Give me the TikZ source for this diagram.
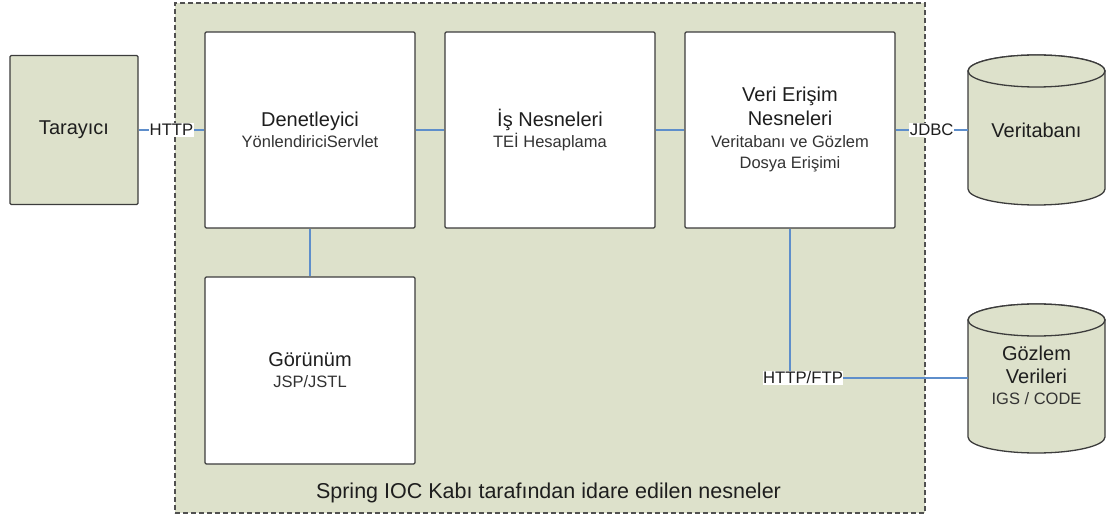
\documentclass[tikz,border=0pt]{standalone}
\usepackage{fontspec}
\setmainfont{Liberation Sans}
\definecolor{panel}{HTML}{DDE1CB}
\definecolor{boxline}{HTML}{3C3C3C}
\definecolor{wire}{HTML}{5E8ECB}
\definecolor{ink}{HTML}{1E1E1E}
\definecolor{inksoft}{HTML}{333333}
\definecolor{framecol}{HTML}{505050}
\newcommand\ttl{\fontsize{20}{22}\selectfont\color{ink}}
\newcommand\subt{\fontsize{16.5}{21}\selectfont\color{inksoft}}
\begin{document}
\begin{tikzpicture}[x=1pt,y=1pt,
  comp/.style={draw=boxline, line width=1.3pt, fill=white, rounded corners=1.2pt,
    minimum width=210pt, minimum height=196pt, align=center, inner sep=0pt,
    font=\subt},
  client/.style={comp, fill=panel, minimum width=128pt, minimum height=149pt},
  store/.style={minimum width=137pt, inner sep=0pt, align=center, font=\subt},
  cyl/.style={draw=boxline, line width=1.3pt, fill=panel},
  wire/.style={draw=wire, line width=1.5pt},
  lbl/.style={fill=white, inner xsep=0.5pt, inner ysep=1pt,
    font=\fontsize{16.7}{18}\selectfont\color{ink}},
]
\useasboundingbox (0,0) rectangle (1107,517);

% container of the managed objects
\node[draw=framecol, line width=1.5pt, dash pattern=on 5pt off 3pt, fill=panel,
  minimum width=750pt, minimum height=510pt, inner sep=0pt] (ioc) at (550,259) {};
\node[anchor=base, font=\fontsize{21.5}{24}\selectfont\color{ink}] (ioclbl) at (548.5,19)
  {Spring IOC Kabı tarafından idare edilen nesneler};

% components
\node[client] (tar) at (74,387) {\ttl Tarayıcı};
\node[comp] (den) at (310,387) {{\ttl Denetleyici}\\YönlendiriciServlet};
\node[comp] (is) at (550,387) {{\ttl İş Nesneleri}\\TEİ Hesaplama};
\node[comp] (veri) at (790,387)
  {{\ttl Veri Erişim}\\[3pt]{\ttl Nesneleri}\\[1pt]Veritabanı ve Gözlem\\Dosya Erişimi};
\node[comp, minimum height=187pt] (gor) at (310,146.5) {{\ttl Görünüm}\\JSP/JSTL};

% data stores (cylinders)
\draw[cyl] (968,446) -- (968,328)
  arc[start angle=180, end angle=360, x radius=68.5pt, y radius=16pt]
  -- (1105,446) arc[start angle=0, end angle=180, x radius=68.5pt, y radius=16pt] -- cycle;
\draw[cyl] (1036.5,446) ellipse[x radius=68.5pt, y radius=16pt];
\node[store, minimum height=150pt] (vtb) at (1036.5,387) {\raisebox{-6pt}{\ttl Veritabanı}};

\draw[cyl] (968,197) -- (968,80)
  arc[start angle=180, end angle=360, x radius=68.5pt, y radius=16pt]
  -- (1105,197) arc[start angle=0, end angle=180, x radius=68.5pt, y radius=16pt] -- cycle;
\draw[cyl] (1036.5,197) ellipse[x radius=68.5pt, y radius=16pt];
\node[store, minimum height=148pt] (goz) at (1036.5,139)
  {\raisebox{-8pt}{\begin{tabular}{@{}c@{}}{\ttl Gözlem}\\[2pt]{\ttl Verileri}\\IGS / CODE\end{tabular}}};

% connectors
\draw[wire] (tar.east) -- node[lbl] (http) {HTTP} (den.west);
\draw[wire] (den.east) -- (is.west);
\draw[wire] (is.east) -- (veri.west);
\draw[wire] (veri.east) -- node[lbl] (jdbc) {JDBC} (vtb.west);
\draw[wire] (den.south) -- (gor.north);
\draw[wire] (veri.south) |- node[lbl, pos=0.5, xshift=13pt] (ftp) {HTTP/FTP} (goz.west);
\end{tikzpicture}
\end{document}
